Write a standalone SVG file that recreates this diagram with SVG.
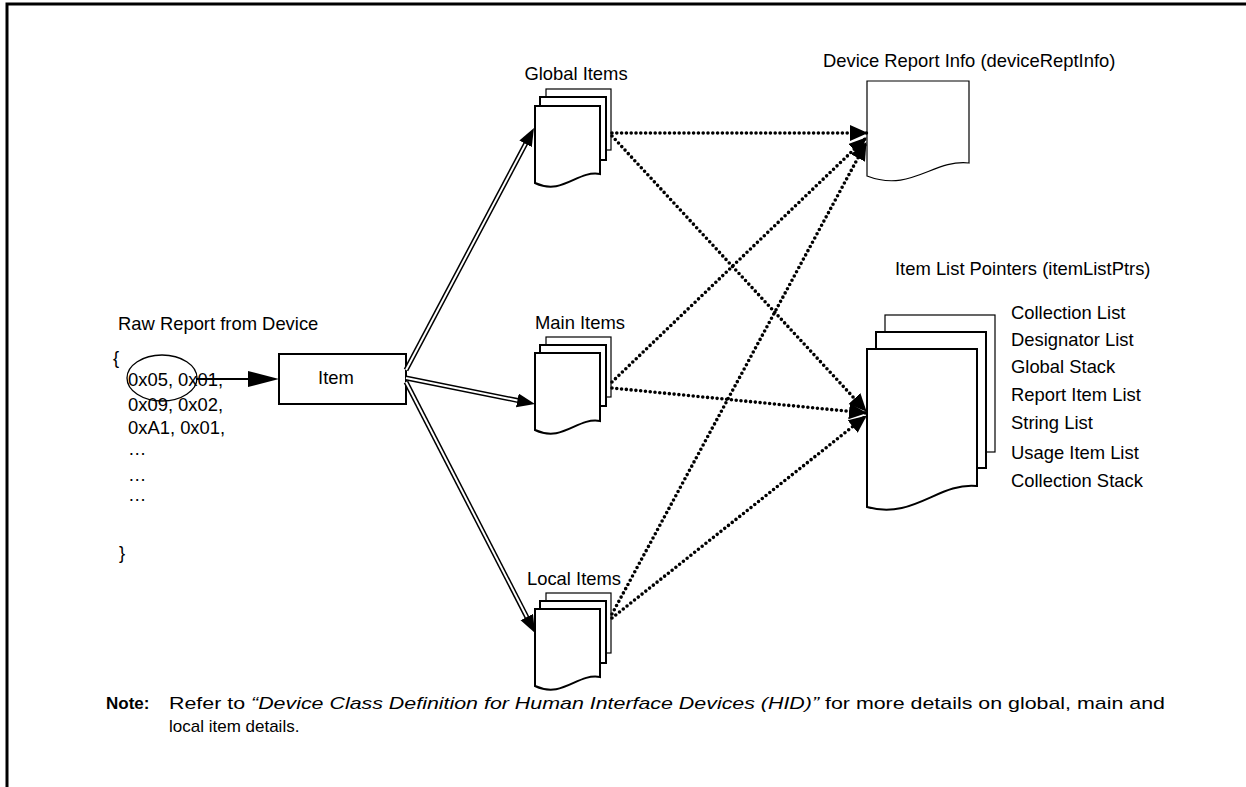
<svg xmlns="http://www.w3.org/2000/svg" width="1246" height="787" viewBox="0 0 1246 787">
<style>
text{font-family:"Liberation Sans",Arial,sans-serif;font-size:18.4px;fill:#000}
.note{font-size:17px}
.pg{fill:#fff;stroke:#000;stroke-width:2}
.pgb{fill:#fff;stroke:#000;stroke-width:1.2}
.dot{fill:none;stroke:#000;stroke-width:3.6;stroke-dasharray:0 4.8;stroke-linecap:round}
.dbl-o{fill:none;stroke:#000;stroke-width:5}
.dbl-i{fill:none;stroke:#fff;stroke-width:2}
</style>
<defs>
<marker id="dh" markerUnits="userSpaceOnUse" markerWidth="20" markerHeight="18" refX="17" refY="8" orient="auto">
<path d="M0,0 L18,8 L0,16 z" fill="#000"/>
</marker>
<marker id="th" markerUnits="userSpaceOnUse" markerWidth="20" markerHeight="16" refX="2" refY="7" orient="auto">
<path d="M0,0 L18,7 L0,14 z" fill="#000"/>
</marker>
</defs>
<rect x="0" y="0" width="1246" height="787" fill="#fff"/>
<path d="M7,787 V4 H1246" fill="none" stroke="#000" stroke-width="3"/>

<g id="raw-report">
<text x="118" y="330">Raw Report from Device</text>
<text x="113" y="364">{</text>
<text x="128" y="386">0x05, 0x01,</text>
<text x="128" y="411">0x09, 0x02,</text>
<text x="128" y="434">0xA1, 0x01,</text>
<text x="128" y="455">…</text>
<text x="128" y="481">…</text>
<text x="128" y="501">…</text>
<text x="119" y="559">}</text>
<ellipse cx="162" cy="378" rx="35" ry="23" fill="none" stroke="#000" stroke-width="1.3"/>
</g>

<g id="item">
<rect x="279" y="354" width="127" height="50" fill="#fff" stroke="#000" stroke-width="2"/>
<text x="336" y="384" text-anchor="middle">Item</text>
</g>

<g id="global-items">
<text x="576" y="80" text-anchor="middle">Global Items</text>
<rect class="pgb" x="546" y="89" width="65" height="61"/>
<rect class="pg" x="540" y="97" width="66" height="63"/>
<path class="pg" d="M535,106 H600 V174 C577,170 563,196 535,183 Z"/>
</g>

<g id="main-items">
<text x="580" y="329" text-anchor="middle">Main Items</text>
<rect class="pgb" x="546" y="337" width="65" height="60"/>
<rect class="pg" x="540" y="345" width="66" height="61"/>
<path class="pg" d="M535,353 H600 V421 C577,417 563,443 535,430 Z"/>
</g>

<g id="local-items">
<text x="574" y="585" text-anchor="middle">Local Items</text>
<rect class="pgb" x="546" y="593" width="65" height="60"/>
<rect class="pg" x="540" y="601" width="66" height="62"/>
<path class="pg" d="M535,609 H600 V677 C577,673 563,699 535,686 Z"/>
</g>

<g id="device-report-info">
<text x="823" y="67">Device Report Info (deviceReptInfo)</text>
<path class="pgb" stroke-width="1.4" d="M867,81 H969 V163 C933,159 911,193 867,176 Z"/>
</g>

<g id="item-list-pointers">
<text x="895" y="275">Item List Pointers (itemListPtrs)</text>
<rect class="pgb" x="885" y="315" width="110" height="137"/>
<rect class="pg" x="876" y="332" width="110" height="136"/>
<path class="pg" d="M867,349 H977 V486 C938,482 914,520 867,507 Z"/>
<text x="1011" y="319">Collection List</text>
<text x="1011" y="346">Designator List</text>
<text x="1011" y="373">Global Stack</text>
<text x="1011" y="401">Report Item List</text>
<text x="1011" y="429">String List</text>
<text x="1011" y="459">Usage Item List</text>
<text x="1011" y="487">Collection Stack</text>
</g>

<g id="connectors">
<line x1="196" y1="379" x2="250" y2="379" stroke="#000" stroke-width="2"/>
<path d="M248,371 L279,379 L248,387 z" fill="#000"/>

<path class="dbl-o" d="M406,370 L526.5,142.1" marker-end="url(#th)"/>
<path class="dbl-i" d="M406,370 L525.6,143.9"/>
<path class="dbl-o" d="M406,378 L519.3,400.8" marker-end="url(#th)"/>
<path class="dbl-i" d="M406,378 L517.4,400.4"/>
<path class="dbl-o" d="M406,382 L527.7,618.8" marker-end="url(#th)"/>
<path class="dbl-i" d="M406,382 L526.8,617.0"/>

<path class="dot" d="M612,133 L867,133" marker-end="url(#dh)"/>
<path class="dot" d="M612,382 L866,138" marker-end="url(#dh)"/>
<path class="dot" d="M612,614 L866,143" marker-end="url(#dh)"/>
<path class="dot" d="M612,136 L866,411" marker-end="url(#dh)"/>
<path class="dot" d="M612,388 L866,413" marker-end="url(#dh)"/>
<path class="dot" d="M612,618 L866,416" marker-end="url(#dh)"/>
</g>

<g id="note">
<text class="note" x="106" y="709" font-weight="bold">Note:</text>
<text class="note" x="169" y="709" textLength="996" lengthAdjust="spacingAndGlyphs">Refer to <tspan font-style="italic">“Device Class Definition for Human Interface Devices (HID)”</tspan> for more details on global, main and</text>
<text class="note" x="169" y="732">local item details.</text>
</g>
</svg>
